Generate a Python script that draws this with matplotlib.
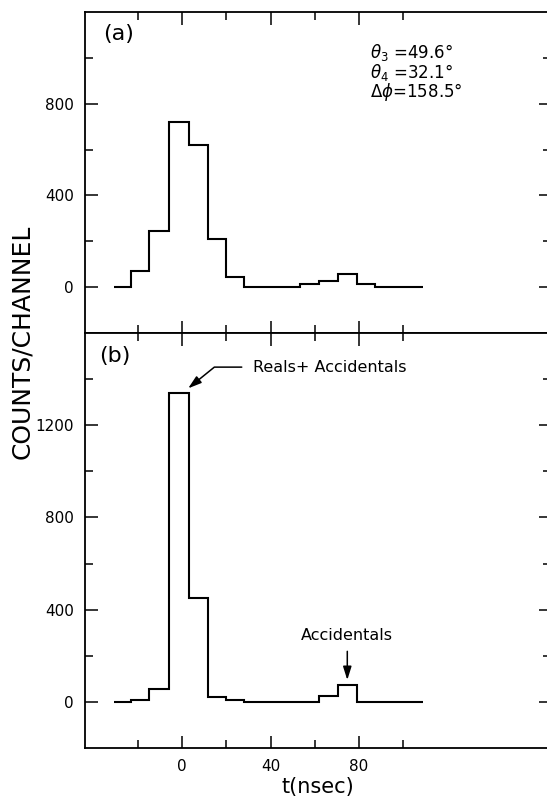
import numpy as np
import matplotlib
matplotlib.use('Agg')
import matplotlib.pyplot as plt
from matplotlib.ticker import FixedLocator

plt.rcParams['font.family'] = ['DejaVu Sans']
plt.rcParams['mathtext.fontset'] = 'dejavusans'

# Time-of-flight bin edges (nsec), common to both spectra
edges = [-31, -23, -15, -6, 3, 11.5, 20, 28, 36.5, 45, 53.5, 62, 70.5, 79, 87.5, 96, 109]

# (a) counts per channel
counts_a = [0, 70, 245, 720, 620, 210, 45, 0, 0, 0, 12, 27, 58, 13, 0, 0]
# (b) counts per channel, reals + accidentals
counts_b = [0, 10, 54, 1340, 450, 20, 7, 0, 0, 0, 0, 25, 75, 0, 0, 0]

angles_a = [r'$\theta_3$ =49.6°',
            r'$\theta_4$ =32.1°',
            r'$\Delta\phi$=158.5°']

xlim = (-44, 167)
x_major = [0, 40, 80]
x_minor = [-20, 20, 60, 100]

fig = plt.figure(figsize=(5.47, 8), dpi=100)
ax_a = fig.add_axes([0.1554, 0.58375, 0.852, 0.40125])
ax_b = fig.add_axes([0.1554, 0.065, 0.852, 0.51875])

for ax, counts, ylim, ymaj, ymin in [
        (ax_a, counts_a, (-200, 1200), [0, 400, 800], [200, 600, 1000]),
        (ax_b, counts_b, (-200, 1600), [0, 400, 800, 1200], [200, 600, 1000, 1400])]:
    ax.stairs(counts, edges, color='black', lw=1.5, baseline=None)
    ax.set_xlim(xlim)
    ax.set_ylim(ylim)
    ax.xaxis.set_major_locator(FixedLocator(x_major))
    ax.xaxis.set_minor_locator(FixedLocator(x_minor))
    ax.yaxis.set_major_locator(FixedLocator(ymaj))
    ax.yaxis.set_minor_locator(FixedLocator(ymin))
    ax.tick_params(which='both', direction='in', top=True, right=True,
                   width=1.1, labelsize=11, pad=8)
    ax.tick_params(which='major', length=9)
    ax.tick_params(which='minor', length=6)
    for sp in ax.spines.values():
        sp.set_linewidth(1.3)

ax_a.tick_params(axis='x', labelbottom=False)

ax_a.text(0.072, 0.93, '(a)', transform=ax_a.transAxes, fontsize=16,
          ha='center', va='center')
ax_b.text(0.065, 0.945, '(b)', transform=ax_b.transAxes, fontsize=16,
          ha='center', va='center')

for i, s in enumerate(angles_a):
    ax_a.text(0.612, 0.875 - i * 0.062, s, transform=ax_a.transAxes,
              fontsize=12, ha='left', va='center')

# arrows on panel (b)
ax_b.annotate('Reals+ Accidentals', xy=(2.7, counts_b[3] + 20), xytext=(32, 1452),
              fontsize=11.5, ha='left', va='center',
              arrowprops=dict(arrowstyle='-|>,head_length=0.7,head_width=0.22',
                              connectionstyle='angle,angleA=0,angleB=39,rad=0',
                              color='black', lw=1.1, shrinkA=6, shrinkB=0))
acc_x = 0.5 * (edges[12] + edges[13])
ax_b.annotate('Accidentals', xy=(acc_x, counts_b[12] + 20), xytext=(acc_x, 288),
              fontsize=11.5, ha='center', va='center',
              arrowprops=dict(arrowstyle='-|>,head_length=0.7,head_width=0.22',
                              color='black', lw=1.1, shrinkA=4, shrinkB=0))

ax_b.set_xlabel('t(nsec)', fontsize=15, labelpad=2)
fig.text(0.04, 1 - 342 / 800, 'COUNTS/CHANNEL', rotation=90, fontsize=18,
         ha='center', va='center')

fig.savefig('out.png', dpi=100)
